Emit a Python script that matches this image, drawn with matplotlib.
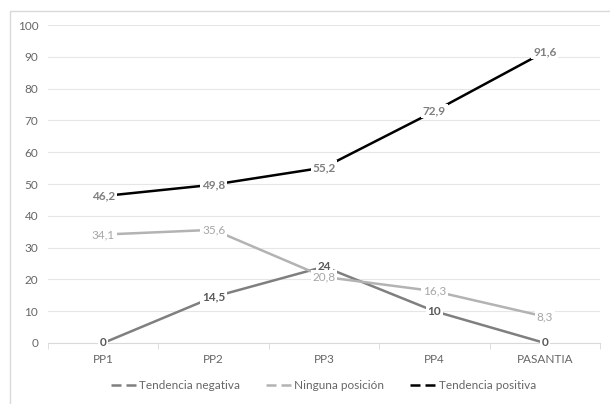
import matplotlib.pyplot as plt
from matplotlib.lines import Line2D
from matplotlib.patches import Rectangle

plt.rcParams['font.family'] = ['Lato', 'DejaVu Sans']

# data
categories = ['PP1', 'PP2', 'PP3', 'PP4', 'PASANTIA']
negativa = [0, 14.5, 24, 10, 0]
ninguna = [34.1, 35.6, 20.8, 16.3, 8.3]
positiva = [46.2, 49.8, 55.2, 72.9, 91.6]
neg_labels = ['0', '14,5', '24', '10', '0']
nin_labels = ['34,1', '35,6', '20,8', '16,3', '8,3']
pos_labels = ['46,2', '49,8', '55,2', '72,9', '91,6']

fig = plt.figure(figsize=(6.1, 4.04), dpi=100)
ax = fig.add_axes([0.0787, 0.151, 0.905, 0.787])

# outer chart border
fig.patches.append(Rectangle((10/610, -0.1), 1.0, 1 - 11/404 + 0.1, transform=fig.transFigure,
                             fill=False, edgecolor='#d9d9d9', linewidth=1))

x = range(len(categories))
series = [
    (negativa, neg_labels, '#7f7f7f', '#595959', 'bold', 'Tendencia negativa'),
    (ninguna, nin_labels, '#b3b3b3', '#a6a6a6', 'normal', 'Ninguna posición'),
    (positiva, pos_labels, '#000000', '#7f7f7f', 'bold', 'Tendencia positiva'),
]
for vals, labs, col, tcol, w, name in series:
    ax.plot(x, vals, color=col, linewidth=1.8, zorder=2, solid_capstyle='butt')
for vals, labs, col, tcol, w, name in series:
    for xi, v, t in zip(x, vals, labs):
        ax.text(xi, v, t, ha='center', va='center', fontsize=8.5, color=tcol, fontweight=w,
                bbox=dict(boxstyle='square,pad=0.15', fc='white', ec='none'), zorder=3)

ax.set_xlim(-0.5, 4.5)
ax.set_ylim(0, 100)
ax.set_yticks(range(0, 101, 10))
ax.set_xticks(list(x))
ax.set_xticklabels(categories)
ax.set_xticks([-0.5, 0.5, 1.5, 2.5, 3.5, 4.5], minor=True)
ax.tick_params(axis='x', which='major', length=0, pad=8, labelsize=8.5, labelcolor='#666666')
ax.tick_params(axis='x', which='minor', length=4, color='#d9d9d9')
ax.tick_params(axis='y', length=0, pad=7, labelsize=8.5, labelcolor='#666666')
ax.grid(axis='y', color='#e6e6e6', linewidth=0.8)
ax.set_axisbelow(True)
for s in ['top', 'right', 'left']:
    ax.spines[s].set_visible(False)
ax.spines['bottom'].set_color('#d9d9d9')

handles = [Line2D([0], [0], color=c, linewidth=1.8, linestyle=(0, (4, 2)))
           for _, _, c, _, _, _ in series]
leg = fig.legend(handles, [s[5] for s in series], loc='center', bbox_to_anchor=(0.53, 0.045),
                 ncol=3, frameon=False, fontsize=8.5, handlelength=2.2, handletextpad=0.2,
                 columnspacing=2.2)
for t in leg.get_texts():
    t.set_color('#666666')

fig.savefig('out.png', dpi=100)
